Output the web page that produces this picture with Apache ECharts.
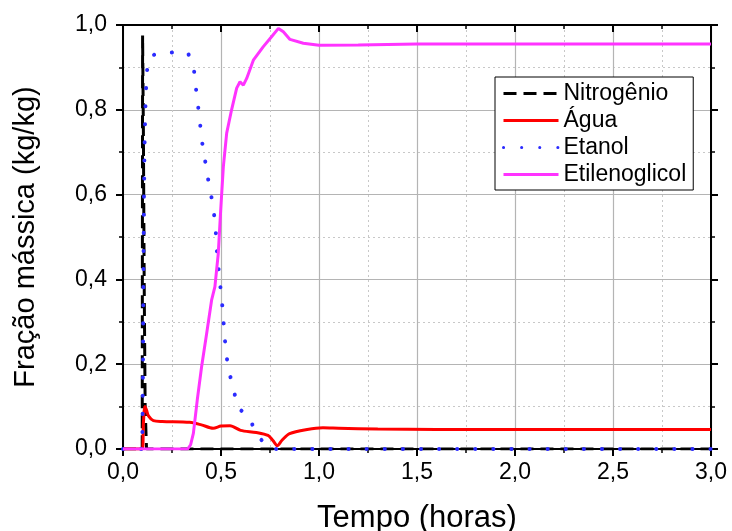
<!DOCTYPE html>
<html>
<head>
<meta charset="utf-8">
<script src="https://cdn.jsdelivr.net/npm/echarts@6/dist/echarts.min.js"></script>
<style>
  html, body { margin: 0; padding: 0; background: #fff; }
  #chart { width: 732px; height: 531px; }
</style>
</head>
<body>
<div id="chart"></div>
<script>
// tempo (horas) e fração mássica de cada componente
var nitroT = [0, 0.098, 0.1, 0.104, 0.108, 0.113, 0.12, 0.2, 3.0];
var nitroV = [0, 0, 0.975, 0.75, 0.4, 0.1, 0, 0, 0];

var aguaT = [0, 0.099, 0.104, 0.112, 0.12, 0.13, 0.155, 0.2, 0.34, 0.4, 0.46, 0.5, 0.546, 0.6, 0.68, 0.74, 0.765, 0.787, 0.81, 0.85, 0.94, 1.02, 1.1, 1.3, 1.6, 2.0, 2.5, 3.0];
var aguaV = [0, 0, 0.06, 0.1, 0.092, 0.078, 0.067, 0.065, 0.063, 0.057, 0.049, 0.054, 0.055, 0.044, 0.039, 0.032, 0.02, 0.008, 0.02, 0.036, 0.046, 0.05, 0.049, 0.047, 0.046, 0.046, 0.046, 0.046];

var etanolT = [0, 0.098, 0.1, 0.102, 0.104, 0.107, 0.11, 0.114, 0.118, 0.122, 0.13, 0.145, 0.2, 0.33, 0.345, 0.362, 0.372, 0.383, 0.393, 0.403, 0.418, 0.432, 0.449, 0.464, 0.473, 0.478, 0.486, 0.495, 0.505, 0.512, 0.519, 0.527, 0.542, 0.565, 0.585, 0.61, 0.638, 0.677, 0.705, 0.733, 0.76, 1.0, 3.0];
var etanolV = [0, 0, 0.08, 0.2, 0.4, 0.6, 0.72, 0.8, 0.855, 0.89, 0.915, 0.928, 0.935, 0.935, 0.92, 0.894, 0.851, 0.809, 0.768, 0.725, 0.683, 0.642, 0.601, 0.557, 0.516, 0.474, 0.432, 0.391, 0.347, 0.306, 0.263, 0.222, 0.181, 0.139, 0.098, 0.088, 0.079, 0.041, 0.022, 0.008, 0, 0, 0];

var glicolT = [0, 0.33, 0.345, 0.359, 0.379, 0.401, 0.427, 0.452, 0.469, 0.486, 0.498, 0.512, 0.529, 0.554, 0.58, 0.597, 0.614, 0.631, 0.665, 0.716, 0.759, 0.793, 0.818, 0.852, 0.92, 1.0, 1.2, 1.5, 2.0, 2.5, 3.0];
var glicolV = [0, 0, 0.01, 0.037, 0.116, 0.194, 0.273, 0.351, 0.383, 0.461, 0.56, 0.666, 0.745, 0.8, 0.851, 0.866, 0.858, 0.874, 0.917, 0.949, 0.973, 0.992, 0.984, 0.966, 0.957, 0.952, 0.953, 0.955, 0.955, 0.955, 0.955];

var xTicks = [0, 0.5, 1.0, 1.5, 2.0, 2.5, 3.0];
var yTicks = [0, 0.2, 0.4, 0.6, 0.8, 1.0];

function pairs(t, v) {
    return t.map(function (x, i) { return [x, v[i]]; });
}
function virgula(val) {
    return val.toFixed(1).replace('.', ',');
}

var font = 'Liberation Sans, Arial, sans-serif';
var myChart = echarts.init(document.getElementById('chart'));
var option = {
    backgroundColor: '#fff',
    animation: false,
    textStyle: { fontFamily: font },
    grid: { left: 123, right: 21, top: 25, bottom: 82, containLabel: false, outerBoundsMode: 'none' },
    legend: {
        orient: 'vertical',
        left: 495,
        top: 77,
        padding: [3, 7, 2, 7],
        itemGap: 0,
        itemWidth: 55,
        itemHeight: 27,
        backgroundColor: '#fff',
        borderColor: '#000',
        borderWidth: 1,
        itemStyle: { opacity: 0 },
        lineStyle: { width: 3 },
        textStyle: { fontSize: 23, lineHeight: 27, color: '#000', fontFamily: font },
        data: ['Nitrogênio', 'Água', 'Etanol', 'Etilenoglicol']
    },
    xAxis: [
        {
            type: 'value',
            min: xTicks[0],
            max: xTicks[xTicks.length - 1],
            interval: 0.5,
            name: 'Tempo (horas)',
            nameLocation: 'middle',
            nameGap: 54,
            nameTextStyle: { fontSize: 31, color: '#000', fontFamily: font },
            axisLine: { onZero: false, lineStyle: { color: '#000', width: 2 } },
            axisTick: { length: 7, lineStyle: { color: '#000', width: 2 } },
            minorTick: { show: true, splitNumber: 2, length: 4, lineStyle: { color: '#000', width: 1.5 } },
            axisLabel: { fontSize: 23, color: '#000', margin: 12, formatter: virgula },
            splitLine: { show: true, lineStyle: { color: '#b4b4b4', width: 1.2 } },
            minorSplitLine: { show: true, lineStyle: { color: '#c8c8c8', width: 1, type: [2, 3] } }
        },
        {
            type: 'value',
            position: 'top',
            min: 0,
            max: 3,
            interval: 0.5,
            axisLine: { onZero: false, lineStyle: { color: '#000', width: 2 } },
            axisTick: { inside: true, length: 7, lineStyle: { color: '#000', width: 2 } },
            minorTick: { show: true, splitNumber: 2, length: 4, lineStyle: { color: '#000', width: 1.5 } },
            axisLabel: { show: false },
            splitLine: { show: false }
        }
    ],
    yAxis: [
        {
            type: 'value',
            min: yTicks[0],
            max: yTicks[yTicks.length - 1],
            interval: 0.2,
            name: 'Fração mássica (kg/kg)',
            nameLocation: 'middle',
            nameGap: 83,
            nameTextStyle: { fontSize: 29, color: '#000', fontFamily: font },
            axisLine: { show: true, onZero: false, lineStyle: { color: '#000', width: 2 } },
            axisTick: { show: true, length: 7, lineStyle: { color: '#000', width: 2 } },
            minorTick: { show: true, splitNumber: 2, length: 4, lineStyle: { color: '#000', width: 1.5 } },
            axisLabel: { fontSize: 23, color: '#000', margin: 16, formatter: virgula },
            splitLine: { show: true, lineStyle: { color: '#b4b4b4', width: 1.2 } },
            minorSplitLine: { show: true, lineStyle: { color: '#c8c8c8', width: 1, type: [2, 3] } }
        },
        {
            type: 'value',
            position: 'right',
            min: 0,
            max: 1,
            interval: 0.2,
            axisLine: { show: true, onZero: false, lineStyle: { color: '#000', width: 2 } },
            axisTick: { show: true, length: 7, lineStyle: { color: '#000', width: 2 } },
            minorTick: { show: true, splitNumber: 2, length: 4, lineStyle: { color: '#000', width: 1.5 } },
            axisLabel: { show: false },
            splitLine: { show: false }
        }
    ],
    series: [
        {
            name: 'Nitrogênio',
            type: 'line',
            symbol: 'none',
            color: '#000',
            lineStyle: { color: '#000', width: 3, type: [13, 7] },
            data: pairs(nitroT, nitroV)
        },
        {
            name: 'Água',
            type: 'line',
            symbol: 'none',
            smooth: 0.3,
            color: '#ff0000',
            lineStyle: { color: '#ff0000', width: 3 },
            data: pairs(aguaT, aguaV)
        },
        {
            name: 'Etanol',
            type: 'line',
            symbol: 'none',
            color: '#2b2bff',
            lineStyle: { color: '#2b2bff', width: 4, type: [0.1, 18], cap: 'round' },
            data: pairs(etanolT, etanolV)
        },
        {
            name: 'Etilenoglicol',
            type: 'line',
            symbol: 'none',
            color: '#ff33ff',
            lineStyle: { color: '#ff33ff', width: 3 },
            data: pairs(glicolT, glicolV)
        }
    ]
};
myChart.setOption(option);
</script>
</body>
</html>
